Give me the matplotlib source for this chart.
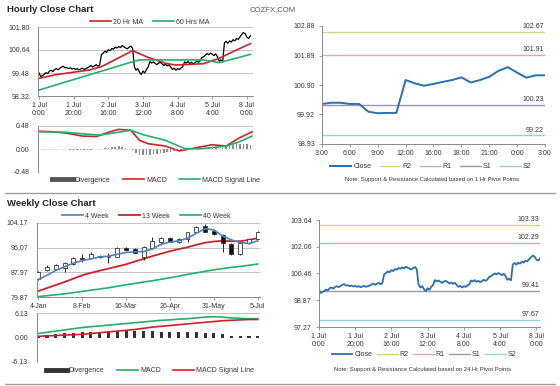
import numpy as np
import matplotlib
matplotlib.use("Agg")
import matplotlib.pyplot as plt
from matplotlib.lines import Line2D

plt.rcParams['font.family'] = ['Liberation Sans', 'DejaVu Sans']

W, H = 560, 386

# ---------------- hourly data (1 Jul 0:00 .. 8 Jul 0:00) ----------------
hourly_close = [
    99.48, 99.30, 99.35, 99.42, 99.50, 99.45, 99.58, 99.62, 99.55, 99.66,
    99.70, 99.64, 99.72, 99.78, 99.82, 99.74, 99.76, 99.70, 99.74, 99.68,
    99.72, 99.66, 99.70, 99.64, 99.68, 99.72, 99.66, 99.70, 99.74, 99.80,
    99.86, 99.78, 99.84, 99.90, 99.82, 99.88, 100.40, 100.48, 100.58, 100.52,
    100.66, 100.60, 100.72, 100.68, 100.78, 100.74, 100.82, 100.76, 100.86, 100.80,
    100.74, 100.70, 100.78, 100.84, 100.72, 99.80, 99.62, 99.70, 99.52, 99.40,
    99.58, 99.48, 99.66, 99.78, 100.06, 99.98, 100.04, 99.96, 99.90, 99.98,
    100.02, 99.94, 99.86, 99.92, 99.84, 99.90, 99.78, 99.66, 99.72, 99.62,
    99.70, 99.66, 99.74, 99.80, 100.04, 99.98, 100.06, 99.96, 100.02, 99.94,
    100.00, 100.08, 100.02, 100.10, 100.26, 100.30, 100.38, 100.46, 100.40, 100.48,
    100.42, 100.36, 100.44, 100.30, 100.08, 100.14, 100.05, 101.00, 101.08, 100.98,
    101.10, 101.04, 101.16, 101.10, 101.22, 101.18, 101.30, 101.42, 101.52, 101.46,
    101.28, 101.22, 101.36,
]
hour_tick_pos = [0, 20, 40, 60, 80, 100, 120]
hour_tick_labels = ['1 Jul\n0:00', '1 Jul\n20:00', '2 Jul\n16:00', '3 Jul\n12:00',
                    '4 Jul\n8:00', '5 Jul\n4:00', '8 Jul\n0:00']

ma20_x = [0, 10, 29, 36, 45, 54, 62, 73, 79, 95, 104, 113, 122]
ma20 = [99.21, 99.40, 99.63, 99.80, 100.20, 100.61, 100.30, 99.97, 99.88, 99.95, 100.22, 100.60, 100.96]
ma60_x = [0, 54, 58, 95, 104, 122]
ma60 = [98.62, 100.05, 100.14, 100.14, 100.00, 100.42]

macd_h_x = [0, 8, 16, 25, 33, 41, 46, 53, 58, 63, 73, 81, 87, 100, 108, 115, 123]
macd_h = [0.37, 0.36, 0.33, 0.27, 0.26, 0.36, 0.41, 0.39, 0.18, 0.11, 0.06, -0.04, 0.00, 0.09, 0.06, 0.22, 0.36]
sig_h_x = [0, 16, 24, 35, 44, 53, 60, 73, 84, 92, 100, 108, 115, 123]
sig_h = [0.36, 0.35, 0.32, 0.29, 0.34, 0.39, 0.30, 0.18, 0.01, 0.00, 0.03, 0.06, 0.14, 0.27]
div_h_x = list(range(0, 124, 2))
div_h = [0.00, 0.01, 0.00, 0.00, -0.01, 0.00, 0.00, 0.00, -0.01, -0.02,
         -0.02, -0.03, -0.03, -0.02, -0.02, -0.02, -0.01, 0.00, 0.01, 0.02,
         0.03, 0.04, 0.05, 0.06, 0.05, 0.03, 0.01, -0.03, -0.08, -0.12,
         -0.13, -0.13, -0.12, -0.11, -0.10, -0.09, -0.08, -0.07, -0.06, -0.05,
         -0.04, -0.03, -0.02, -0.01, 0.00, 0.00, 0.01, 0.02, 0.03, 0.04,
         0.04, 0.03, 0.01, 0.03, 0.06, 0.08, 0.09, 0.10, 0.11, 0.11,
         0.10, 0.09]

# ---------------- 24h close with 1 Hr pivots ----------------
day_close = [100.27, 100.31, 100.31, 100.27, 100.27, 100.01, 99.96, 99.97, 99.97,
             101.07, 100.96, 100.88, 100.94, 101.01, 101.07, 101.16, 100.99, 101.07,
             101.18, 101.38, 101.50, 101.32, 101.15, 101.23, 101.23]
day_tick_labels = ['3:00', '6:00', '9:00', '12:00', '16:00', '18:00', '21:00', '0:00', '3:00']
pivots_1h = {'R2': 102.67, 'R1': 101.91, 'S1': 100.23, 'S2': 99.22}
pivots_24h = {'R2': 103.33, 'R1': 102.29, 'S1': 99.41, 'S2': 97.67}

# ---------------- weekly data ----------------
week_tick_pos = [0, 5, 10, 15, 20, 25]
week_tick_labels = ['4-Jan', '8-Feb', '16-Mar', '26-Apr', '31-May', '5-Jul']
wk_open = [85.8, 88.7, 89.1, 89.5, 90.6, 92.8, 92.6, 93.4, 93.0, 93.1, 95.9, 95.5, 93.1,
           95.9, 98.0, 99.4, 97.8, 98.9, 101.3, 103.2, 101.5, 100.2, 97.2, 93.9, 97.5, 99.0]
wk_close = [88.0, 89.8, 90.4, 90.9, 92.8, 92.2, 93.9, 93.0, 93.2, 95.9, 95.2, 94.4, 96.4,
            98.3, 99.4, 98.0, 98.9, 101.1, 102.96, 101.3, 100.5, 97.5, 93.9, 97.5, 98.9, 101.2]
wk_high = [88.3, 90.5, 90.8, 91.3, 93.0, 93.9, 94.6, 93.6, 94.2, 96.2, 96.2, 95.8, 96.7,
           99.7, 99.6, 99.6, 99.1, 101.3, 103.2, 103.9, 101.7, 100.4, 97.5, 97.7, 99.1, 101.4]
wk_low = [85.5, 88.5, 88.9, 88.2, 90.4, 91.5, 92.4, 92.8, 90.9, 92.9, 95.0, 94.2, 92.1,
          95.7, 96.9, 97.8, 97.6, 98.0, 101.1, 101.1, 100.3, 94.75, 93.6, 93.7, 97.3, 98.8]
ma4w = [85.6, 87.0, 88.6, 89.8, 91.0, 91.8, 92.4, 93.0, 93.3, 93.9, 94.5, 94.7, 94.8,
        95.6, 97.2, 97.9, 98.3, 99.2, 100.8, 102.3, 101.9, 99.9, 98.6, 97.8, 97.4, 98.3]
ma13w = [81.8, 82.8, 83.8, 84.8, 85.9, 87.0, 87.8, 88.5, 89.2, 89.9, 90.6, 91.5, 92.4,
         93.3, 94.1, 94.9, 95.6, 96.2, 97.0, 97.7, 98.1, 98.3, 98.2, 98.2, 98.6, 99.2]
ma40w = [80.0, 80.3, 80.6, 80.9, 81.3, 81.7, 82.1, 82.5, 82.9, 83.4, 83.9, 84.3, 84.8,
         85.2, 85.7, 86.2, 86.7, 87.3, 87.8, 88.3, 88.8, 89.2, 89.6, 89.9, 90.3, 90.7]
macd_w = [1.0, 1.3, 1.6, 1.9, 2.2, 2.5, 2.7, 2.9, 3.1, 3.3, 3.5, 3.7, 3.9,
          4.1, 4.3, 4.4, 4.6, 4.7, 4.9, 5.1, 5.2, 5.1, 4.9, 4.8, 4.7, 4.7]
sig_w = [0.3, 0.4, 0.5, 0.6, 0.7, 0.8, 1.0, 1.2, 1.4, 1.6, 1.8, 2.0, 2.3,
         2.6, 2.8, 3.0, 3.2, 3.4, 3.6, 3.8, 4.0, 4.2, 4.3, 4.4, 4.5, 4.5]
div_w = [0.5, 0.7, 0.9, 1.1, 1.2, 1.3, 1.4, 1.5, 1.6, 1.7, 1.7, 1.7, 1.6,
         1.6, 1.5, 1.5, 1.4, 1.3, 1.3, 1.2, 1.1, 0.8, 0.5, 0.4, 0.3, 0.3]

RED = '#cc2229'
GREEN = '#22b06a'
BLUE = '#2a6fb0'
BLUE_MA = '#4f81bd'
PIV_COL = {'R2': '#cfd48c', 'R1': '#e0a6b6', 'S1': '#9c94b4', 'S2': '#95cfe0'}
GRID = '#b8b8b8'
TXT = '#333333'
FS = 5


def add_ax(x0, y0, x1, y1):
    return fig.add_axes([x0 / W, 1 - y1 / H, (x1 - x0) / W, (y1 - y0) / H])


def style(ax, ypad=5):
    for s in ['top', 'right']:
        ax.spines[s].set_visible(False)
    for s in ['left', 'bottom']:
        ax.spines[s].set_color('#8a8a8a')
        ax.spines[s].set_linewidth(0.7)
    ax.tick_params(labelsize=FS, colors=TXT, length=2, width=0.6, pad=2)
    ax.tick_params(axis='y', pad=ypad)
    ax.tick_params(axis='x', color='#8a8a8a')
    ax.tick_params(axis='y', color='#8a8a8a')


def legend(ax, handles, labels, cx, cy, ncol, spacing=1.5, hl=3.0):
    ax.legend(handles, labels, loc='center', bbox_to_anchor=(cx / W, 1 - cy / H),
              bbox_transform=fig.transFigure, ncol=ncol, frameon=False,
              fontsize=FS, handlelength=hl, handletextpad=0.3,
              columnspacing=spacing, labelcolor=TXT, borderpad=0)


fig = plt.figure(figsize=(W / 100, H / 100), dpi=100)

# titles and separators
fig.text(7 / W, 1 - 9 / H, 'Hourly Close Chart', fontsize=6.8, fontweight='bold',
         color='#222222', va='center')
fig.text(250 / W, 1 - 10 / H, 'COZFX.COM', fontsize=5.6, color='#555555', va='center')
fig.text(7 / W, 1 - 203 / H, 'Weekly Close Chart', fontsize=6.8, fontweight='bold',
         color='#222222', va='center')
for yy in [193, 384]:
    fig.add_artist(Line2D([5 / W, 555 / W], [1 - yy / H, 1 - yy / H], color='#a0a0a0', lw=1))

# ---------- hourly price ----------
ax1 = add_ax(38, 27, 253, 96)
style(ax1, ypad=6)
ax1.plot(range(len(hourly_close)), hourly_close, color='black', lw=0.9)
l20, = ax1.plot(ma20_x, ma20, color=RED, lw=1.2)
l60, = ax1.plot(ma60_x, ma60, color=GREEN, lw=1.2)
ax1.set_xlim(-0.6, 123.5)
ax1.set_ylim(98.32, 101.80)
ax1.set_yticks([98.32, 99.48, 100.64, 101.80])
ax1.set_yticklabels(['98.32', '99.48', '100.64', '101.80'])
ax1.tick_params(axis='y', length=0)
ax1.set_xticks(hour_tick_pos)
ax1.set_xticklabels(hour_tick_labels, linespacing=1.3)
ax1.grid(axis='y', color=GRID, lw=0.6)
ax1.set_axisbelow(True)
legend(ax1, [l20, l60], ['20 Hr MA', '60 Hrs MA'], 150, 22, 2)

# ---------- hourly MACD ----------
ax2 = add_ax(38, 126, 253, 172)
style(ax2, ypad=6)
ax2.bar(div_h_x, div_h, width=0.9, color='#8a8a8a')
lm, = ax2.plot(macd_h_x, macd_h, color=RED, lw=1.2)
ls, = ax2.plot(sig_h_x, sig_h, color=GREEN, lw=1.2)
ax2.set_xlim(-0.6, 123.5)
ax2.set_ylim(-0.48, 0.48)
ax2.set_yticks([-0.48, 0.0, 0.48])
ax2.set_yticklabels(['-0.48', '0.00', '0.48'])
ax2.tick_params(axis='y', length=0)
ax2.set_xticks([])
ax2.spines['bottom'].set_visible(False)
ax2.axhline(0.48, color=GRID, lw=0.6)
ax2.axhline(0.0, color=GRID, lw=0.6, ls=':')
legend(ax2, [Line2D([], [], color='#555555', lw=3.5), lm, ls],
       ['Divergence', 'MACD', 'MACD Signal Line'], 156, 180, 3, spacing=1.8)

# ---------- 24h close with pivots ----------
ax3 = add_ax(322, 26, 545, 144)
style(ax3, ypad=3)
ax3.set_xlim(0, 24)
ax3.set_ylim(98.93, 102.88)
piv_handles = []
for k, v in pivots_1h.items():
    h = ax3.axhline(v, color=PIV_COL[k], lw=1.0)
    piv_handles.append(h)
    ax3.text(23.9, v + 0.06, f'{v:.2f}', fontsize=FS, color=TXT, ha='right', va='bottom')
lc, = ax3.plot(range(len(day_close)), day_close, color=BLUE, lw=1.4)
ax3.set_yticks([98.93, 99.92, 100.90, 101.89, 102.88])
ax3.set_yticklabels(['98.93', '99.92', '100.90', '101.89', '102.88'])
ax3.set_xticks(range(0, 25, 3))
ax3.set_xticklabels(day_tick_labels)
legend(ax3, [lc] + piv_handles, ['Close', 'R2', 'R1', 'S1', 'S2'], 431, 167, 5, spacing=1.2)
fig.text(432 / W, 1 - 180 / H, 'Note: Support & Resistance Calculated based on 1 Hr Pivot Points',
         fontsize=4.2, color=TXT, ha='center', va='center')

# ---------- weekly price ----------
ax4 = add_ax(36.5, 223, 259.5, 297)
style(ax4, ypad=6)
idx = np.arange(len(wk_open))
ax4.vlines(idx, wk_low, wk_high, color='#222222', lw=0.7, zorder=3)
up = [c >= o for o, c in zip(wk_open, wk_close)]
bottoms = [min(o, c) for o, c in zip(wk_open, wk_close)]
heights = [max(abs(c - o), 0.25) for o, c in zip(wk_open, wk_close)]
ax4.bar(idx, heights, bottom=bottoms, width=0.45,
        color=['white' if u else '#111111' for u in up], edgecolor='#333333', lw=0.6, zorder=4)
l4, = ax4.plot(idx, ma4w, color=BLUE_MA, lw=1.2, zorder=5)
l13, = ax4.plot(idx, ma13w, color=RED, lw=1.3, zorder=2)
l40, = ax4.plot(idx, ma40w, color=GREEN, lw=1.2, zorder=2)
ax4.set_xlim(-0.2, 25.2)
ax4.set_ylim(79.87, 104.17)
ax4.set_yticks([79.87, 87.97, 96.07, 104.17])
ax4.set_yticklabels(['79.87', '87.97', '96.07', '104.17'])
ax4.tick_params(axis='y', length=0)
ax4.set_xticks(week_tick_pos)
ax4.set_xticklabels(week_tick_labels)
ax4.grid(axis='y', color=GRID, lw=0.6)
ax4.set_axisbelow(True)
legend(ax4, [l4, l13, l40], ['4 Week', '13 Week', '40 Week'], 146, 216, 3, spacing=1.5)

# ---------- weekly MACD ----------
ax5 = add_ax(36.5, 313, 259.5, 362)
style(ax5, ypad=6)
ax5.bar(idx, div_w, width=0.35, color='#333333')
lmw, = ax5.plot(idx, macd_w, color=GREEN, lw=1.2)
lsw, = ax5.plot(idx, sig_w, color=RED, lw=1.2)
ax5.set_xlim(-0.2, 25.2)
ax5.set_ylim(-6.13, 6.13)
ax5.set_yticks([-6.13, 0.0, 6.13])
ax5.set_yticklabels(['-6.13', '0.00', '6.13'])
ax5.tick_params(axis='y', length=0)
ax5.set_xticks([])
ax5.spines['bottom'].set_visible(False)
ax5.axhline(6.13, color=GRID, lw=0.6)
legend(ax5, [Line2D([], [], color='#333333', lw=3.5), lmw, lsw],
       ['Divergence', 'MACD', 'MACD Signal Line'], 150, 371, 3, spacing=1.8)

# ---------- hourly close with 24h pivots ----------
ax6 = add_ax(318.5, 220, 540, 327)
style(ax6, ypad=3)
ax6.set_xlim(-0.2, 122)
ax6.set_ylim(97.27, 103.64)
piv_handles = []
for k, v in pivots_24h.items():
    h = ax6.axhline(v, color=PIV_COL[k], lw=1.0)
    piv_handles.append(h)
    ax6.text(121.5, v + 0.12, f'{v:.2f}', fontsize=FS, color=TXT, ha='right', va='bottom')
lc2, = ax6.plot(range(len(hourly_close)), hourly_close, color=BLUE, lw=1.3)
ax6.set_yticks([97.27, 98.87, 100.46, 102.06, 103.64])
ax6.set_yticklabels(['97.27', '98.87', '100.46', '102.06', '103.64'])
ax6.set_xticks(hour_tick_pos)
ax6.set_xticklabels(hour_tick_labels, linespacing=1.3)
legend(ax6, [lc2] + piv_handles, ['Close', 'R2', 'R1', 'S1', 'S2'], 424, 355, 5, spacing=0.6)
fig.text(423 / W, 1 - 370 / H, 'Note: Support & Resistance Calculated based on 24 Hr Pivot Points',
         fontsize=4.2, color=TXT, ha='center', va='center')

fig.savefig('out.png', dpi=100)
